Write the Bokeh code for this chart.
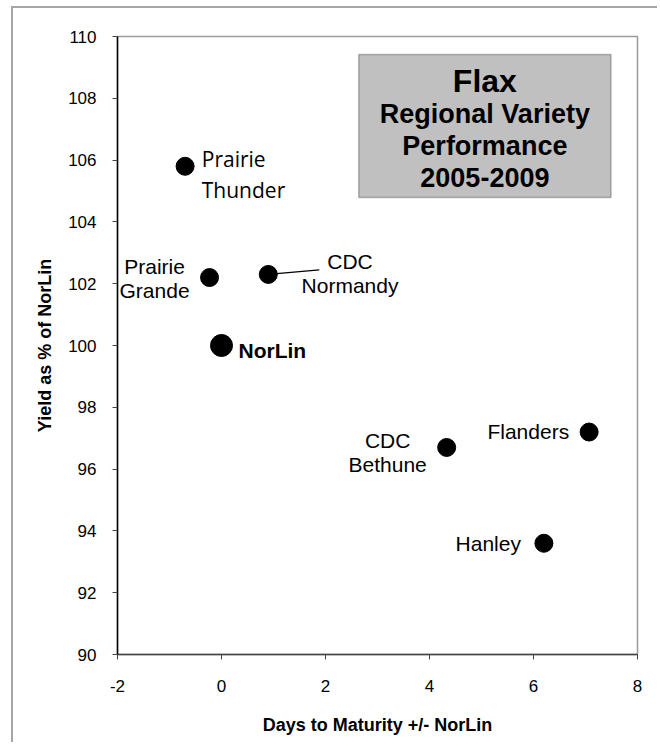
from bokeh.plotting import figure
from bokeh.models import ColumnDataSource, FixedTicker, BoxAnnotation, Range1d
from bokeh.core.properties import value
from bokeh.embed import file_html
from bokeh.resources import INLINE

# ---- data ----
varieties = ["Prairie Thunder", "Prairie Grande", "CDC Normandy", "NorLin",
             "CDC Bethune", "Flanders", "Hanley"]
days_vs_norlin = [-0.7, -0.23, 0.9, 0.0, 4.33, 7.07, 6.2]
yield_pct = [105.8, 102.2, 102.3, 100.0, 96.7, 97.2, 93.6]
x_ticks = [-2, 0, 2, 4, 6, 8]
y_ticks = [90, 92, 94, 96, 98, 100, 102, 104, 106, 108, 110]
title_lines = ["Flax", "Regional Variety", "Performance", "2005-2009"]
x_title = "Days to Maturity +/- NorLin"
y_title = "Yield as % of NorLin"
check_name = "NorLin"

# ---- label layout (screen px relative to each point) ----
label_layout = {
    "Prairie Thunder": dict(lines=["Prairie", "Thunder"], align="left", dx=16.7, dy=[-7.6, 23.7], font="Open Sans", style="normal"),
    "Prairie Grande": dict(lines=["Prairie", "Grande"], align="center", dx=-55, dy=[-11, 12.5], font="Liberation Sans", style="normal"),
    "CDC Normandy": dict(lines=["CDC", "Normandy"], align="center", dx=81.7, dy=[-13.2, 11.1], font="Liberation Sans", style="normal"),
    "NorLin": dict(lines=["NorLin"], align="left", dx=17, dy=[5.4], font="Liberation Sans", style="bold"),
    "CDC Bethune": dict(lines=["CDC", "Bethune"], align="center", dx=-59, dy=[-6.7, 17.0], font="Liberation Sans", style="normal"),
    "Flanders": dict(lines=["Flanders"], align="right", dx=-20, dy=[-1.0], font="Liberation Sans", style="normal"),
    "Hanley": dict(lines=["Hanley"], align="right", dx=-23, dy=[0.3], font="Liberation Sans", style="normal"),
}

FW, FH = 520, 618
X0, X1 = x_ticks[0], x_ticks[-1]
Y0, Y1 = y_ticks[0], y_ticks[-1]
px_x = FW / (X1 - X0)
px_y = FH / (Y1 - Y0)

p = figure(frame_width=FW, frame_height=FH,
           x_range=Range1d(X0, X1), y_range=Range1d(Y0, Y1),
           output_backend="svg", toolbar_location=None,
           min_border_left=104, min_border_top=28, min_border_right=20, min_border_bottom=88)
p.margin = (6, 0, 0, 11)
p.styles = {"border-left": "2px solid #a6a6a6", "border-top": "2px solid #a6a6a6"}

p.xgrid.visible = False
p.ygrid.visible = False
p.outline_line_color = "#9a9a9a"
p.outline_line_width = 1.5
p.background_fill_color = "white"
p.border_fill_color = "white"

p.xaxis.ticker = FixedTicker(ticks=x_ticks)
p.yaxis.ticker = FixedTicker(ticks=y_ticks)
p.xaxis.major_label_overrides = {t: str(t) for t in x_ticks}
p.yaxis.major_label_overrides = {t: str(t) for t in y_ticks}
p.axis.minor_tick_line_color = None
p.axis.major_tick_in = 0
p.axis.major_tick_out = 5
p.axis.major_label_text_font = "Liberation Sans"
p.axis.major_label_text_font_size = "17px"
p.axis.major_label_text_color = "black"
p.yaxis.major_label_standoff = 16
p.xaxis.major_label_standoff = 20
p.yaxis.axis_line_color = "black"
p.xaxis.axis_line_color = "#444444"
p.axis.axis_line_width = 1.5
p.axis.major_tick_line_color = "#444444"
p.axis.major_tick_line_width = 1

p.xaxis.axis_label = x_title
p.yaxis.axis_label = y_title
p.axis.axis_label_text_font = "Liberation Sans"
p.axis.axis_label_text_font_style = "bold"
p.axis.axis_label_text_font_size = "18px"
p.axis.axis_label_text_color = "black"
p.xaxis.axis_label_standoff = 20
p.yaxis.axis_label_standoff = 10

# title box (data coords of box corners)
box_l, box_r, box_t, box_b = 2.64, 7.49, 109.42, 104.79
box = BoxAnnotation(left=box_l, right=box_r, top=box_t, bottom=box_b,
                    fill_color="#c0c0c0", fill_alpha=1.0,
                    line_color="#222222", line_width=1.5, level="underlay")
p.add_layout(box)
bx = (box_l + box_r) / 2
tsrc = ColumnDataSource(dict(x=[bx] * 4, y=[box_t] * 4, text=title_lines,
                             yo=[27, 60, 91.5, 123],
                             fs=["32px", "27px", "27px", "27px"]))
p.text(x="x", y="y", text="text", y_offset="yo", source=tsrc,
       text_font=value("Liberation Sans"), text_font_style="bold",
       text_font_size="fs", text_align="center", text_baseline="alphabetic",
       text_color="black")

# leader line for CDC Normandy
i_cn = varieties.index("CDC Normandy")
p.segment(x0=[days_vs_norlin[i_cn]], y0=[yield_pct[i_cn]],
          x1=[days_vs_norlin[i_cn] + 51 / px_x], y1=[yield_pct[i_cn] + 4.5 / px_y],
          line_color="black", line_width=1.3)

# points
xs_small = [d for d, n in zip(days_vs_norlin, varieties) if n != check_name]
ys_small = [y for y, n in zip(yield_pct, varieties) if n != check_name]
p.scatter(xs_small, ys_small, size=18, color="black")
i_nl = varieties.index(check_name)
p.scatter([days_vs_norlin[i_nl]], [yield_pct[i_nl]], size=22, color="black")

# labels
groups = {}
for name, d, yv in zip(varieties, days_vs_norlin, yield_pct):
    L = label_layout[name]
    key = (L["align"], L["font"], L["style"])
    g = groups.setdefault(key, dict(x=[], y=[], text=[], xo=[], yo=[]))
    for line, dy in zip(L["lines"], L["dy"]):
        g["x"].append(d)
        g["y"].append(yv)
        g["text"].append(line)
        g["xo"].append(L["dx"])
        g["yo"].append(dy)

for (align, font, style), g in groups.items():
    src = ColumnDataSource(g)
    p.text(x="x", y="y", text="text", x_offset="xo", y_offset="yo", source=src,
           text_font=value(font), text_font_style=style, text_font_size="21px",
           text_align=align, text_baseline="alphabetic", text_color="black")

open("out.html", "w").write(file_html(p, INLINE))
